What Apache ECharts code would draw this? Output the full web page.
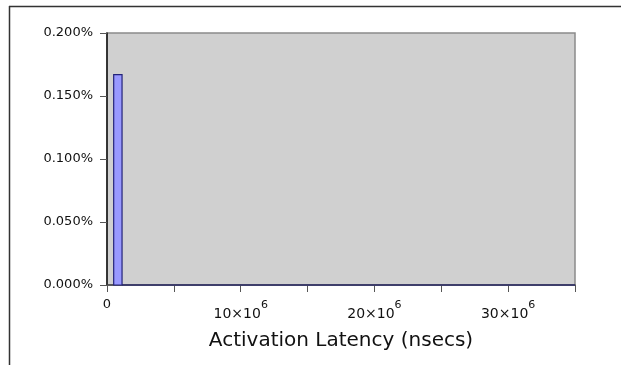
<!DOCTYPE html>
<html>
<head>
<meta charset="utf-8">
<script src="https://cdn.jsdelivr.net/npm/echarts@6/dist/echarts.min.js"></script>
<style>
  html, body { margin: 0; padding: 0; background: #ffffff; }
  #chart { width: 621px; height: 365px; }
</style>
</head>
<body>
<div id="chart"></div>
<script>
// Histogram bins of activation latency (nsecs) and share of samples (%)
var binStart = [500000, 1125000];
var binEnd = [1125000, 35000000];
var binPercent = [0.167, 0];

// Axis ticks
var xMax = 35000000;
var xStep = 5000000;
var xLabelStep = 10000000;
var yMax = 0.2;
var yStep = 0.05;

var bins = binStart.map(function (s, i) { return [s, binEnd[i], binPercent[i]]; });

var chart = echarts.init(document.getElementById('chart'), null, { renderer: 'canvas' });

chart.setOption({
  animation: false,
  backgroundColor: '#ffffff',
  textStyle: { fontFamily: 'DejaVu Sans' },
  grid: {
    left: 107, right: 46, top: 33, bottom: 80,
    show: true,
    backgroundColor: '#d0d0d0',
    borderColor: '#8a8a8a',
    borderWidth: 1.5
  },
  xAxis: {
    type: 'value',
    min: 0, max: xMax, interval: xStep,
    name: 'Activation Latency (nsecs)',
    nameLocation: 'middle',
    nameGap: 46,
    nameTextStyle: { fontSize: 20, color: '#111', fontFamily: 'DejaVu Sans' },
    axisLine: { show: true, onZero: false, lineStyle: { color: '#444', width: 1.5 } },
    axisTick: { show: true, inside: false, length: 7, lineStyle: { color: '#555', width: 1 } },
    splitLine: { show: false },
    axisLabel: {
      margin: 15,
      color: '#111',
      fontSize: 13,
      showMaxLabel: true,
      formatter: function (v) {
        if (v === 0) return '{z|0}';
        if (v % xLabelStep !== 0) return '';
        return '{n|' + (v / 1000000) + '×10}{s|6}';
      },
      rich: {
        z: { fontSize: 13, lineHeight: 14, color: '#111', padding: [5, 0, 9, 0] },
        n: { fontSize: 14, lineHeight: 15, color: '#111', padding: [13, 0, 0, 0] },
        s: { fontSize: 11, lineHeight: 12, color: '#111', padding: [6, 0, 10, 0] }
      }
    }
  },
  yAxis: {
    type: 'value',
    min: 0, max: yMax, interval: yStep,
    axisLine: { show: true, lineStyle: { color: '#111', width: 1.5 } },
    axisTick: { show: true, inside: false, length: 7, lineStyle: { color: '#555', width: 1 } },
    splitLine: { show: false },
    axisLabel: {
      margin: 14,
      color: '#111',
      fontSize: 13,
      formatter: function (v) { return v.toFixed(3) + '%'; }
    }
  },
  series: [{
    type: 'custom',
    data: bins,
    encode: { x: [0, 1], y: 2 },
    renderItem: function (params, api) {
      var p0 = api.coord([api.value(0), api.value(2)]);
      var p1 = api.coord([api.value(1), 0]);
      return {
        type: 'rect',
        shape: { x: p0[0], y: p0[1], width: p1[0] - p0[0], height: p1[1] - p0[1] },
        style: { fill: '#9999ff', stroke: '#23237a', lineWidth: 1.2 }
      };
    }
  }],
  graphic: [
    { type: 'line', shape: { x1: 9, y1: 6.5, x2: 621, y2: 6.5 }, style: { stroke: '#333', lineWidth: 1.5 } },
    { type: 'line', shape: { x1: 9.5, y1: 6, x2: 9.5, y2: 365 }, style: { stroke: '#333', lineWidth: 1.5 } }
  ]
});
</script>
</body>
</html>
